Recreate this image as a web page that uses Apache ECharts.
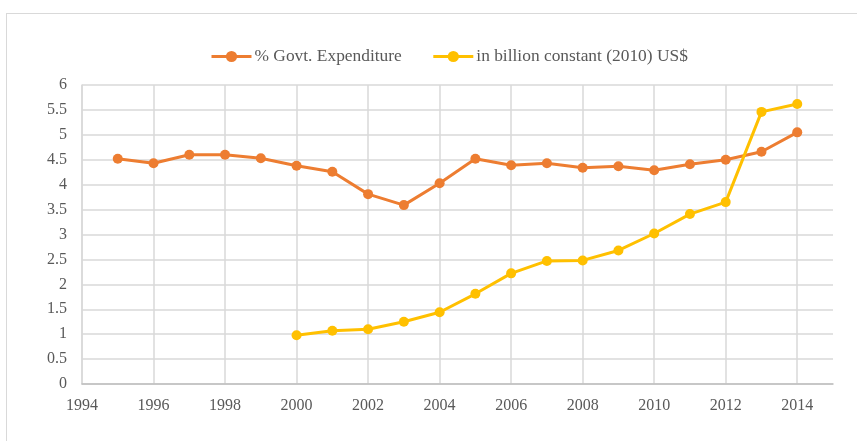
<!DOCTYPE html>
<html>
<head>
<meta charset="utf-8">
<script src="https://cdn.jsdelivr.net/npm/echarts@6/dist/echarts.min.js"></script>
<style>
  html, body { margin: 0; padding: 0; background: #fff; }
  #frame { position: absolute; left: 6px; top: 13px; width: 860px; height: 440px; border: 1px solid #d9d9d9; box-sizing: border-box; }
  #chart { position: absolute; left: 0; top: 0; width: 857px; height: 441px; }
</style>
</head>
<body>
<div id="frame"></div>
<div id="chart"></div>
<script>
// Years covered by each series
const yearsPct = [1995, 1996, 1997, 1998, 1999, 2000, 2001, 2002, 2003, 2004, 2005, 2006, 2007, 2008, 2009, 2010, 2011, 2012, 2013, 2014];
const yearsUsd = [2000, 2001, 2002, 2003, 2004, 2005, 2006, 2007, 2008, 2009, 2010, 2011, 2012, 2013, 2014];

// Share of government expenditure (%)
const pctGovtExpenditure = [4.52, 4.43, 4.6, 4.6, 4.53, 4.38, 4.26, 3.81, 3.59, 4.03, 4.52, 4.39, 4.43, 4.34, 4.37, 4.29, 4.41, 4.5, 4.66, 5.05];
// Spending in billion constant (2010) US$
const billionUsd = [0.98, 1.07, 1.1, 1.25, 1.44, 1.81, 2.22, 2.47, 2.48, 2.68, 3.02, 3.41, 3.65, 5.46, 5.62];

const seriesNames = ['% Govt. Expenditure', 'in billion constant (2010) US$'];

const font = "'Liberation Serif', 'Times New Roman', serif";
const textColor = '#595959';
const gridColor = '#d9d9d9';

const pairs = (xs, ys) => xs.map((x, i) => [x, ys[i]]);

const chart = echarts.init(document.getElementById('chart'), null, { renderer: 'canvas' });
chart.setOption({
  animation: false,
  textStyle: { fontFamily: font },
  legend: {
    top: 43,
    left: 205,
    itemWidth: 40,
    itemHeight: 14,
    itemGap: 30,
    lineStyle: { width: 3 },
    textStyle: { fontFamily: font, fontSize: 17.4, color: textColor, padding: [0, 0, 0, -2] },
    data: seriesNames
  },
  grid: { left: 82, right: 24, top: 85, bottom: 57, containLabel: false },
  xAxis: {
    type: 'value',
    min: 1994,
    max: 2015,
    interval: 2,
    axisLine: { show: true, lineStyle: { color: '#bfbfbf', width: 1.5 } },
    axisTick: { show: false },
    axisLabel: {
      showMaxLabel: false,
      color: textColor, fontFamily: font, fontSize: 16, margin: 14,
      formatter: v => String(v)
    },
    splitLine: { show: true, showMinLine: true, showMaxLine: false, lineStyle: { color: gridColor, width: 1.5 } }
  },
  yAxis: {
    type: 'value',
    min: 0,
    max: 6,
    interval: 0.5,
    axisLine: { show: true, lineStyle: { color: gridColor, width: 1.5 } },
    axisTick: { show: false },
    axisLabel: { color: textColor, fontFamily: font, fontSize: 16, margin: 15 },
    splitLine: { show: true, lineStyle: { color: gridColor, width: 1.5 } }
  },
  series: [
    {
      name: seriesNames[0],
      type: 'line',
      data: pairs(yearsPct, pctGovtExpenditure),
      symbol: 'circle',
      symbolSize: 10,
      lineStyle: { color: '#ED7D31', width: 3 },
      itemStyle: { color: '#ED7D31' }
    },
    {
      name: seriesNames[1],
      type: 'line',
      data: pairs(yearsUsd, billionUsd),
      symbol: 'circle',
      symbolSize: 10,
      lineStyle: { color: '#FFC000', width: 3 },
      itemStyle: { color: '#FFC000' }
    }
  ]
});
</script>
</body>
</html>
